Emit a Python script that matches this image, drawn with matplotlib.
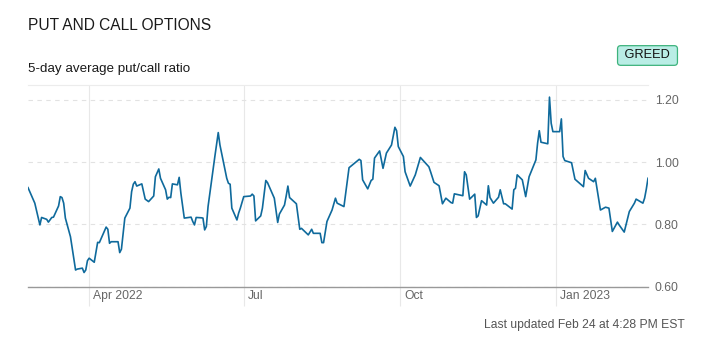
import matplotlib.pyplot as plt
import matplotlib.dates as mdates
from matplotlib.transforms import ScaledTranslation
import pandas as pd

# 5-day average put/call ratio
dates = [
    '2022-02-24', '2022-02-28', '2022-03-03', '2022-03-04', '2022-03-07', '2022-03-08',
    '2022-03-10', '2022-03-11', '2022-03-14', '2022-03-15', '2022-03-16', '2022-03-17',
    '2022-03-18', '2022-03-21', '2022-03-24', '2022-03-25', '2022-03-28', '2022-03-29',
    '2022-03-30', '2022-03-31', '2022-04-01', '2022-04-04', '2022-04-06', '2022-04-07',
    '2022-04-11', '2022-04-12', '2022-04-13', '2022-04-14', '2022-04-18', '2022-04-19',
    '2022-04-20', '2022-04-22', '2022-04-25', '2022-04-26', '2022-04-27', '2022-04-28',
    '2022-04-29', '2022-05-02', '2022-05-04', '2022-05-06', '2022-05-09', '2022-05-10',
    '2022-05-12', '2022-05-13', '2022-05-16', '2022-05-17', '2022-05-18', '2022-05-19',
    '2022-05-20', '2022-05-23', '2022-05-24', '2022-05-25', '2022-05-27', '2022-05-31',
    '2022-06-01', '2022-06-02', '2022-06-03', '2022-06-06', '2022-06-07', '2022-06-08',
    '2022-06-09', '2022-06-10', '2022-06-14', '2022-06-16', '2022-06-17', '2022-06-21',
    '2022-06-22', '2022-06-23', '2022-06-24', '2022-06-27', '2022-06-28', '2022-06-29',
    '2022-07-01', '2022-07-05', '2022-07-06', '2022-07-07', '2022-07-08', '2022-07-11',
    '2022-07-12', '2022-07-14', '2022-07-15', '2022-07-19', '2022-07-21', '2022-07-22',
    '2022-07-25', '2022-07-26', '2022-07-27', '2022-07-28', '2022-08-01', '2022-08-03',
    '2022-08-04', '2022-08-08', '2022-08-10', '2022-08-11', '2022-08-15', '2022-08-16',
    '2022-08-17', '2022-08-19', '2022-08-22', '2022-08-24', '2022-08-25', '2022-08-29',
    '2022-09-01', '2022-09-07', '2022-09-08', '2022-09-09', '2022-09-12', '2022-09-14',
    '2022-09-15', '2022-09-16', '2022-09-19', '2022-09-21', '2022-09-23', '2022-09-26',
    '2022-09-28', '2022-09-29', '2022-09-30', '2022-10-03', '2022-10-04', '2022-10-07',
    '2022-10-10', '2022-10-13', '2022-10-14', '2022-10-18', '2022-10-19', '2022-10-21',
    '2022-10-24', '2022-10-26', '2022-10-28', '2022-10-31', '2022-11-01', '2022-11-02',
    '2022-11-07', '2022-11-08', '2022-11-09', '2022-11-11', '2022-11-14', '2022-11-15',
    '2022-11-16', '2022-11-18', '2022-11-21', '2022-11-22', '2022-11-23', '2022-11-25',
    '2022-11-28', '2022-11-29', '2022-12-01', '2022-12-02', '2022-12-06', '2022-12-07',
    '2022-12-08', '2022-12-09', '2022-12-12', '2022-12-14', '2022-12-16', '2022-12-20',
    '2022-12-21', '2022-12-22', '2022-12-23', '2022-12-27', '2022-12-28', '2022-12-29',
    '2022-12-30', '2023-01-03', '2023-01-04', '2023-01-05', '2023-01-06', '2023-01-10',
    '2023-01-12', '2023-01-17', '2023-01-18', '2023-01-20', '2023-01-23', '2023-01-24',
    '2023-01-27', '2023-01-30', '2023-02-01', '2023-02-03', '2023-02-06', '2023-02-07',
    '2023-02-10', '2023-02-13', '2023-02-16', '2023-02-17', '2023-02-21', '2023-02-22',
    '2023-02-23', '2023-02-24',
]
ratio = [
    0.918, 0.868, 0.798, 0.822, 0.816, 0.807,
    0.822, 0.823, 0.859, 0.889, 0.886, 0.868,
    0.820, 0.760, 0.653, 0.656, 0.659, 0.645,
    0.653, 0.683, 0.691, 0.678, 0.742, 0.741,
    0.791, 0.784, 0.739, 0.744, 0.744, 0.709,
    0.720, 0.820, 0.852, 0.905, 0.929, 0.937,
    0.923, 0.930, 0.881, 0.873, 0.891, 0.953,
    0.978, 0.948, 0.911, 0.881, 0.887, 0.886,
    0.930, 0.927, 0.951, 0.900, 0.820, 0.823,
    0.809, 0.798, 0.822, 0.821, 0.820, 0.782,
    0.793, 0.857, 1.018, 1.095, 1.055, 0.948,
    0.932, 0.929, 0.852, 0.814, 0.836, 0.852,
    0.889, 0.891, 0.897, 0.891, 0.811, 0.827,
    0.852, 0.941, 0.934, 0.884, 0.806, 0.833,
    0.862, 0.891, 0.923, 0.886, 0.866, 0.784,
    0.787, 0.766, 0.784, 0.771, 0.771, 0.741,
    0.741, 0.809, 0.846, 0.884, 0.868, 0.857,
    0.982, 1.009, 1.005, 0.943, 0.914, 0.941,
    0.945, 1.013, 1.036, 0.980, 1.029, 1.055,
    1.112, 1.101, 1.050, 1.018, 0.969, 0.923,
    0.959, 1.015, 1.009, 0.985, 0.969, 0.935,
    0.924, 0.866, 0.884, 0.870, 0.868, 0.898,
    0.892, 0.969, 0.959, 0.881, 0.897, 0.822,
    0.827, 0.876, 0.862, 0.924, 0.886, 0.868,
    0.887, 0.911, 0.866, 0.866, 0.849, 0.911,
    0.916, 0.959, 0.943, 0.889, 0.953, 1.007,
    1.061, 1.101, 1.064, 1.059, 1.209, 1.125,
    1.098, 1.098, 1.139, 1.018, 1.005, 0.998,
    0.945, 0.921, 0.973, 0.948, 0.937, 0.948,
    0.846, 0.855, 0.852, 0.777, 0.807, 0.798,
    0.775, 0.841, 0.868, 0.881, 0.868, 0.884,
    0.913, 0.948,
]
y_ticks = [0.60, 0.80, 1.00, 1.20]
x_ticks = ['2022-04-01', '2022-07-01', '2022-10-01', '2023-01-01']
x_labels = ['Apr 2022', 'Jul', 'Oct', 'Jan 2023']

plt.rcParams['font.family'] = ['Liberation Sans', 'DejaVu Sans']

fig = plt.figure(figsize=(7.03, 3.51), dpi=100)
ax = fig.add_axes([28 / 703, 1 - 286.5 / 351, 620 / 703, 201.5 / 351])

x = pd.to_datetime(dates)
ax.plot(x, ratio, color='#0f6a9c', lw=1.2, solid_joinstyle='round')

ax.set_xlim(pd.Timestamp('2022-02-24'), pd.Timestamp('2023-02-24'))
ax.set_ylim(0.6, 1.248)

# y axis on the right
ax.yaxis.tick_right()
ax.set_yticks(y_ticks)
ax.set_yticklabels(['%.2f' % v for v in y_ticks])
ax.tick_params(axis='y', length=0, pad=5, labelsize=8.7, labelcolor='#666666')
ax.grid(axis='y', color='#e2e2e2', linestyle=(0, (4, 4)), lw=0.8)

# month lines run down past the axis, labels sit to the right of them
ax.set_xticks(pd.to_datetime(x_ticks))
ax.set_xticklabels(x_labels)
ax.tick_params(axis='x', length=13.5, width=0.8, color='#e8e8e8', pad=-11,
               labelsize=8.7, labelcolor='#666666')
ax.grid(axis='x', color='#e8e8e8', linestyle='-', lw=0.8)
shift = ScaledTranslation(4 / 100, 0, fig.dpi_scale_trans)
for lab in ax.get_xticklabels():
    lab.set_ha('left')
    lab.set_transform(lab.get_transform() + shift)

for s in ['left', 'right']:
    ax.spines[s].set_visible(False)
ax.spines['top'].set_color('#ececec')
ax.spines['top'].set_linewidth(0.8)
ax.spines['bottom'].set_color('#999999')
ax.spines['bottom'].set_linewidth(1.0)
ax.set_axisbelow(True)

# titles and badge
fig.text(28 / 703, 1 - 25 / 351, 'PUT AND CALL OPTIONS', fontsize=11.2,
         color='#1a1a1a', va='center', ha='left')
fig.text(28 / 703, 1 - 69 / 351, '5-day average put/call ratio', fontsize=9.6,
         color='#1a1a1a', va='center', ha='left')
fig.text(647.5 / 703, 1 - 55.5 / 351, ' GREED ', fontsize=9.2, color='#111111',
         va='center', ha='center',
         bbox=dict(boxstyle='round,pad=0.3,rounding_size=0.25', fc='#b9ede5',
                   ec='#3db37c', lw=0.9))
fig.text(685 / 703, 1 - 325 / 351, 'Last updated Feb 24 at 4:28 PM EST',
         fontsize=8.7, color='#555555', va='center', ha='right')

fig.savefig('out.png', dpi=100)
